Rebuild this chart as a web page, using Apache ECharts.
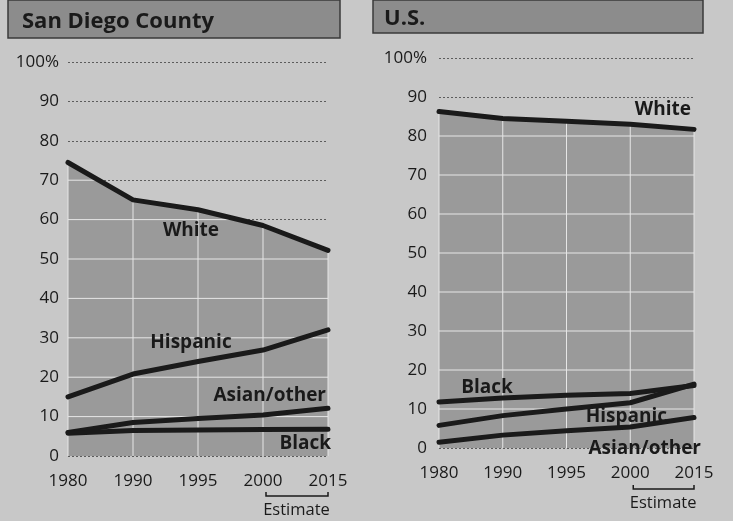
<!DOCTYPE html>
<html><head><meta charset="utf-8">
<script src="https://cdn.jsdelivr.net/npm/echarts@6/dist/echarts.min.js"></script>
<style>html,body{margin:0;padding:0;background:#c8c8c8}#c{width:733px;height:521px}</style>
</head><body><div id="c"></div>
<script>
// ---- data ----
const years = ['1980', '1990', '1995', '2000', '2015'];
const sdWhite = [74.5, 65.0, 62.5, 58.5, 52.2];
const sdHispanic = [15.0, 20.8, 24.0, 26.9, 32.0];
const sdAsian = [6.0, 8.5, 9.5, 10.4, 12.1];
const sdBlack = [5.8, 6.5, 6.6, 6.7, 6.8];
const usWhite = [86.3, 84.5, 83.8, 83.0, 81.7];
const usBlack = [11.8, 12.8, 13.5, 14.0, 16.0];
const usHispanic = [5.8, 8.3, 10.0, 11.6, 16.4];
const usAsian = [1.5, 3.3, 4.4, 5.4, 7.8];
const yTicks = [0, 10, 20, 30, 40, 50, 60, 70, 80, 90, 100];

const FONT = '"Open Sans", "Noto Sans", sans-serif';
const INK = '#1a1a1a';
const chart = echarts.init(document.getElementById('c'));

function innerGrid(gi, white) {
  return {
    type: 'custom', xAxisIndex: gi, yAxisIndex: gi, z: 2, silent: true,
    data: [[0, 0]],
    renderItem(params, api) {
      const ch = [];
      const st = { stroke: '#e6e6e6', lineWidth: 1 };
      for (const v of yTicks) {
        if (v === 0 || v === 100) continue;
        for (let i = 0; i < white.length - 1; i++) {
          const a = white[i], b = white[i + 1];
          if (a <= v && b <= v) continue;
          let t0 = 0, t1 = 1;
          if (a < v) t0 = (v - a) / (b - a);
          if (b < v) t1 = (v - a) / (b - a);
          const pa = api.coord([i, v]), pb = api.coord([i + 1, v]);
          ch.push({ type: 'line', shape: { x1: pa[0] + (pb[0] - pa[0]) * t0, y1: pa[1], x2: pa[0] + (pb[0] - pa[0]) * t1, y2: pa[1] }, style: st });
        }
      }
      for (let i = 0; i < white.length; i++) {
        const p0 = api.coord([i, 0]), p1 = api.coord([i, white[i]]);
        ch.push({ type: 'line', shape: { x1: p0[0], y1: p0[1], x2: p1[0], y2: p1[1] }, style: st });
      }
      return { type: 'group', children: ch };
    }
  };
}
function area(gi, d) {
  return { type: 'line', xAxisIndex: gi, yAxisIndex: gi, data: d, z: 1, symbol: 'none', silent: true,
    lineStyle: { width: 0, opacity: 0 }, areaStyle: { color: '#9a9a9a', opacity: 1 } };
}
function ln(gi, name, d) {
  return { type: 'line', name, xAxisIndex: gi, yAxisIndex: gi, data: d, z: 3, symbol: 'none', silent: true,
    lineStyle: { width: 5, color: INK, cap: 'round', join: 'round' } };
}
function xAx(gi, margin) {
  return { type: 'category', gridIndex: gi, data: years, boundaryGap: false,
    axisLine: { show: false }, axisTick: { show: false },
    axisLabel: { margin, fontSize: 17, color: INK, fontFamily: FONT }, splitLine: { show: false } };
}
function yAx(gi, margin) {
  return { type: 'value', gridIndex: gi, min: 0, max: 100, interval: 10,
    axisLine: { show: false }, axisTick: { show: false },
    axisLabel: { margin, fontSize: 17, color: INK, fontFamily: FONT, formatter: v => v === 100 ? '100%' : String(v) },
    splitLine: { show: true, lineStyle: { color: '#5c5c5c', width: 1, type: [2, 2] } } };
}

chart.setOption({
  backgroundColor: '#c8c8c8',
  animation: false,
  grid: [
    { left: 68, right: 405, top: 62, bottom: 65 },
    { left: 439, right: 39, top: 58, bottom: 73 }
  ],
  xAxis: [xAx(0, 17), xAx(1, 17)],
  yAxis: [yAx(0, 9), yAx(1, 12)],
  series: [
    area(0, sdWhite), innerGrid(0, sdWhite),
    ln(0, 'White', sdWhite), ln(0, 'Hispanic', sdHispanic), ln(0, 'Asian/other', sdAsian), ln(0, 'Black', sdBlack),
    area(1, usWhite), innerGrid(1, usWhite),
    ln(1, 'White', usWhite), ln(1, 'Hispanic', usHispanic), ln(1, 'Asian/other', usAsian), ln(1, 'Black', usBlack)
  ]
});

function txt(t, x, y, align, size, bold) {
  return { type: 'text', z: 10, style: { text: t, x, y, textAlign: align, textVerticalAlign: 'middle',
    font: (bold ? 'bold ' : '') + size + 'px ' + FONT, fill: INK } };
}
const g = [
  { type: 'rect', z: 5, shape: { x: 8, y: 0, width: 332, height: 38 }, style: { fill: '#8c8c8c', stroke: '#3a3a3a', lineWidth: 1.5 } },
  { type: 'rect', z: 5, shape: { x: 373, y: 0, width: 330, height: 33 }, style: { fill: '#8c8c8c', stroke: '#3a3a3a', lineWidth: 1.5 } },
  txt('San Diego County', 22, 22, 'left', 22, true),
  txt('U.S.', 384, 19, 'left', 22, true),
  txt('White', 191, 231, 'center', 19, true),
  txt('Hispanic', 191, 343, 'center', 19, true),
  txt('Asian/other', 326, 396, 'right', 19, true),
  txt('Black', 331, 444, 'right', 19, true),
  txt('White', 691, 110, 'right', 19, true),
  txt('Black', 487, 388, 'center', 19, true),
  txt('Hispanic', 667, 417, 'right', 19, true),
  txt('Asian/other', 701, 449, 'right', 19, true)
];
// Estimate brackets under 2000–2015
[[0, 496, 510], [1, 489, 503]].forEach(([gi, by, ty]) => {
  const xa = chart.convertToPixel({ xAxisIndex: gi }, '2000');
  const xb = chart.convertToPixel({ xAxisIndex: gi }, '2015');
  g.push({ type: 'polyline', z: 10, shape: { points: [[xa + 3, by - 4], [xa + 3, by], [xb, by], [xb, by - 4]] },
    style: { stroke: INK, lineWidth: 1.5, fill: null } });
  g.push(txt('Estimate', (xa + xb) / 2 + 1, ty, 'center', 16.5, false));
});
chart.setOption({ graphic: g });
</script></body></html>
